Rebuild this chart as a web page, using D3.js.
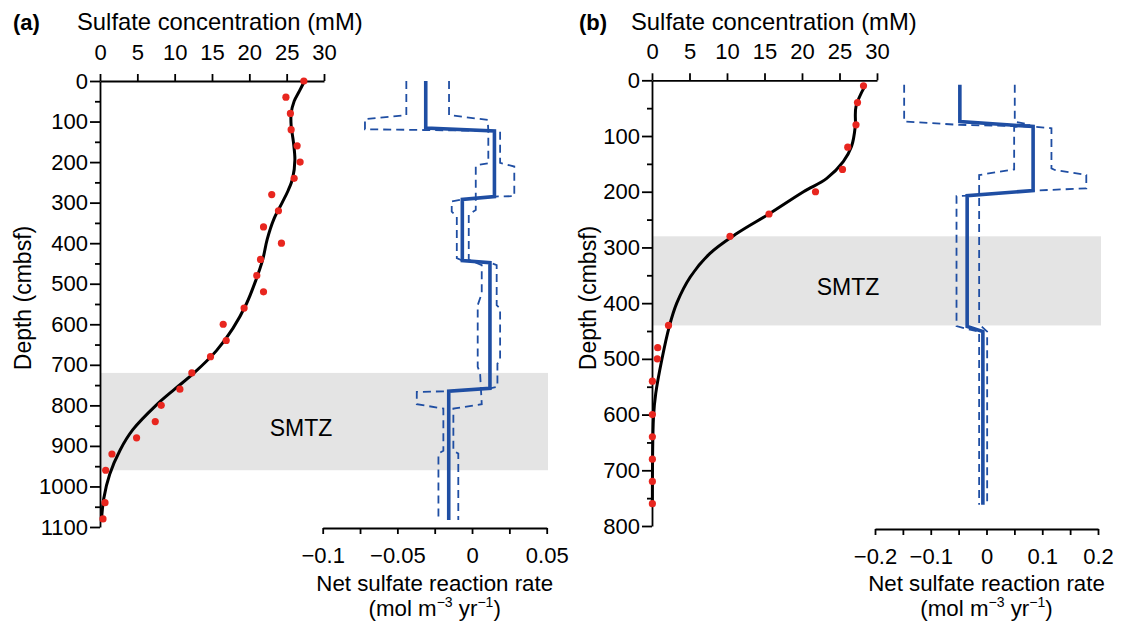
<!DOCTYPE html>
<html>
<head>
<meta charset="utf-8">
<script src="https://cdn.jsdelivr.net/npm/d3@7"></script>
<style>
  body { margin: 0; background: #fff; }
  text { font-family: "Liberation Sans", Arial, sans-serif; fill: #000; }
</style>
</head>
<body>
<svg id="chart" width="1126" height="628"></svg>
<script>
// ---- data ----
// panel (a): sulfate porewater data
var dotDepthA = [0, 40, 80, 120, 160, 200, 240, 280, 320, 360, 400, 440, 480, 520, 560, 600, 640, 680, 720, 760, 800, 840, 880, 920, 960, 1040, 1080];
var dotConcA  = [27.3, 24.9, 25.5, 25.6, 26.4, 26.8, 26.0, 23.0, 23.9, 21.9, 24.3, 21.5, 21.0, 21.9, 19.3, 16.5, 16.9, 14.8, 12.3, 10.7, 8.2, 7.4, 4.9, 1.6, 0.76, 0.67, 0.4];
// fitted profile
var fitDepthA = [0, 25, 50, 80, 110, 150, 195, 240, 270, 300, 340, 390, 440, 490, 550, 610, 665, 720, 760, 800, 860, 910, 970, 1030, 1083];
var fitConcA  = [27.4, 26.7, 26.0, 25.6, 25.6, 25.9, 26.1, 25.8, 25.2, 24.4, 23.3, 22.4, 21.8, 20.9, 19.6, 17.8, 15.6, 12.6, 10.0, 7.5, 4.4, 2.7, 1.3, 0.5, 0.2];
// net reaction rate (step profile) and its bounds
var rateDepthA = [0, 116, 123, 285, 292, 443, 448, 758, 765, 1083];
var rateA      = [-0.031, -0.031, 0.015, 0.015, -0.0065, -0.0065, 0.012, 0.012, -0.0156, -0.0156];
var bound1DepthA = [0, 84, 94, 119, 121, 123, 125, 202, 211, 284, 285, 292, 297, 322, 334, 437, 443, 448, 454, 553, 561, 689, 697, 754, 758, 765, 767, 797, 808, 912, 919, 1083];
var bound1A      = [-0.044, -0.044, -0.0717, -0.0717, -0.031, 0.015, 0.0188, 0.0188, 0.0283, 0.0283, 0.015, -0.0065, -0.0136, -0.0136, -0.0102, -0.0102, -0.0065, 0.012, 0.0165, 0.0165, 0.0188, 0.0188, 0.017, 0.017, 0.012, -0.0156, -0.037, -0.037, -0.0192, -0.0192, -0.0225, -0.0225];
var bound2DepthA = [0, 84, 96, 123, 203, 207, 210, 318, 330, 441, 454, 524, 553, 705, 721, 797, 808, 912, 919, 1083];
var bound2A      = [-0.0154, -0.0154, 0.0105, 0.0109, 0.0109, 0.0038, 0.0025, 0.0025, -0.0022, -0.0022, 0.0065, 0.0065, 0.0038, 0.0038, 0.0054, 0.0065, -0.0125, -0.0125, -0.0092, -0.0092];
var smtzA = [720, 960];

// panel (b)
var dotDepthB = [10, 40, 80, 120, 160, 200, 240, 280, 440, 480, 500, 540, 600, 640, 680, 720, 760];
var dotConcB  = [28.2, 27.4, 27.2, 26.1, 25.4, 21.8, 15.6, 10.4, 2.2, 0.76, 0.7, 0.05, 0.05, 0.05, 0.05, 0.05, 0.05];
var fitDepthB = [10, 47, 83, 119, 146, 176, 200, 239, 275, 311, 353, 400, 442, 502, 562, 604, 765];
var fitConcB  = [28.4, 27.2, 27.1, 26.6, 25.5, 23.3, 20.2, 15.7, 11.3, 7.7, 5.1, 3.3, 2.3, 1.3, 0.5, 0.2, 0.05];
var rateDepthB = [8, 74, 83, 198, 207, 442, 451, 762];
var rateB      = [-0.0478, -0.0478, 0.0836, 0.0836, -0.0347, -0.0347, -0.0065, -0.0065];
var bound1DepthB = [8, 74, 80, 83, 86, 158, 161, 170, 194, 198, 207, 208, 441, 446, 451, 762];
var bound1B      = [-0.1477, -0.1477, -0.0478, 0.0836, 0.1165, 0.1165, 0.1225, 0.179, 0.179, 0.0836, -0.0347, -0.0538, -0.0538, -0.037, -0.0132, -0.0132];
var bound2DepthB = [8, 74, 80, 84, 158, 160, 170, 438, 451, 762];
var bound2B      = [0.0507, 0.0507, 0.078, 0.0496, 0.0496, 0.0496, -0.0132, -0.0132, 0.0012, 0.0012];
var smtzB = [280, 440];

// axis ticks and labels
var concTicks = [0, 5, 10, 15, 20, 25, 30];
var depthMajorA = d3.range(0, 1101, 100);
var depthMinorA = d3.range(50, 1100, 100);
var depthMajorB = d3.range(0, 801, 100);
var depthMinorB = d3.range(50, 800, 100);
var rateTicksA  = [-0.1, -0.075, -0.05, -0.025, 0, 0.025, 0.05];
var rateLabelsA = [-0.1, -0.05, 0, 0.05];
var rateTicksB  = [-0.2, -0.15, -0.1, -0.05, 0, 0.05, 0.1, 0.15, 0.2];
var rateLabelsB = [-0.2, -0.1, 0, 0.1, 0.2];

var RED = "#e8261f";
var BLUE = "#1f4ea3";
var FS = 22;

var svg = d3.select("#chart");

function zip(a, b) { return a.map(function(d, i) { return [d, b[i]]; }); }

function panel(o) {
  var g = svg.append("g");
  var x = d3.scaleLinear().domain([0, 30]).range(o.concRange);
  var y = d3.scaleLinear().domain([0, o.maxDepth]).range(o.depthRange);
  var r = d3.scaleLinear().domain(o.rateDomain).range(o.rateRange);

  // SMTZ band
  g.append("rect")
    .attr("x", x(0)).attr("y", y(o.smtz[0]))
    .attr("width", o.bandRight - x(0))
    .attr("height", y(o.smtz[1]) - y(o.smtz[0]))
    .attr("fill", "#e4e4e4");
  g.append("text")
    .attr("x", o.smtzLabel[0]).attr("y", o.smtzLabel[1])
    .attr("text-anchor", "middle")
    .style("font-size", "23px")
    .text("SMTZ");

  // axes
  var top = g.append("g")
    .attr("transform", "translate(0," + y(0) + ")")
    .call(d3.axisTop(x).tickValues(concTicks).tickSize(7).tickSizeOuter(0).tickPadding(14));
  var left = g.append("g")
    .attr("transform", "translate(" + x(0) + ",0)")
    .call(d3.axisLeft(y).tickValues(o.depthMajor).tickSize(10).tickSizeOuter(0).tickPadding(2)
      .tickFormat(d3.format("d")));
  var leftMinor = g.append("g")
    .attr("transform", "translate(" + x(0) + ",0)")
    .call(d3.axisLeft(y).tickValues(o.depthMinor).tickSize(5).tickSizeOuter(0).tickFormat(""));
  var fmt = d3.format("~g");
  var bottom = g.append("g")
    .attr("transform", "translate(0," + o.bottomY + ")")
    .call(d3.axisBottom(r).tickValues(o.rateTicks).tickSize(6).tickSizeOuter(0).tickPadding(13)
      .tickFormat(function(d) {
        return o.rateLabels.some(function(v) { return Math.abs(v - d) < 1e-9; }) ? fmt(d) : "";
      }));
  [top, left, leftMinor, bottom].forEach(function(a) {
    a.selectAll("path, line").attr("stroke", "#000").attr("stroke-width", 1.8);
    a.selectAll("text").style("font-size", FS + "px").style("font-family", "'Liberation Sans', Arial, sans-serif");
  });
  leftMinor.select(".domain").remove();

  // fitted curve and data
  var curve = d3.line()
    .x(function(d) { return x(d[1]); })
    .y(function(d) { return y(d[0]); })
    .curve(d3.curveCatmullRom.alpha(0.5));
  g.append("path")
    .datum(zip(o.fitDepth, o.fitConc))
    .attr("d", curve)
    .attr("fill", "none").attr("stroke", "#000").attr("stroke-width", 3);
  g.selectAll(".dot")
    .data(zip(o.dotDepth, o.dotConc))
    .join("circle")
    .attr("cx", function(d) { return x(d[1]); })
    .attr("cy", function(d) { return y(d[0]); })
    .attr("r", 3.6)
    .attr("fill", RED);

  // rate profile
  var rl = d3.line()
    .x(function(d) { return r(d[1]); })
    .y(function(d) { return y(d[0]); });
  [[o.b1Depth, o.b1], [o.b2Depth, o.b2]].forEach(function(b) {
    g.append("path")
      .datum(zip(b[0], b[1]))
      .attr("d", rl)
      .attr("fill", "none").attr("stroke", BLUE).attr("stroke-width", 1.8)
      .attr("stroke-dasharray", "8,5");
  });
  g.append("path")
    .datum(zip(o.rateDepth, o.rate))
    .attr("d", rl)
    .attr("fill", "none").attr("stroke", BLUE).attr("stroke-width", 3.6)
    .attr("stroke-linejoin", "miter");

  // labels
  g.append("text")
    .attr("x", o.tagX).attr("y", 30)
    .style("font-size", "22px").style("font-weight", "bold")
    .text(o.tag);
  g.append("text")
    .attr("x", o.titleX).attr("y", 30)
    .style("font-size", "23.8px")
    .text("Sulfate concentration (mM)");
  g.append("text")
    .attr("transform", "translate(" + o.depthLabelX + ",298) rotate(-90)")
    .attr("text-anchor", "middle")
    .style("font-size", "23px")
    .text("Depth (cmbsf)");
  var cx = (o.rateRange[0] + o.rateRange[1]) / 2;
  g.append("text")
    .attr("x", cx).attr("y", 591)
    .attr("text-anchor", "middle")
    .style("font-size", "22.3px")
    .text("Net sulfate reaction rate");
  var u = g.append("text")
    .attr("x", cx).attr("y", 616)
    .attr("text-anchor", "middle")
    .style("font-size", "22.3px");
  u.append("tspan").text("(mol m");
  u.append("tspan").attr("dy", -9).style("font-size", "14px").text("\u22123");
  u.append("tspan").attr("dy", 9).text(" yr");
  u.append("tspan").attr("dy", -9).style("font-size", "14px").text("\u22121");
  u.append("tspan").attr("dy", 9).text(")");
}

panel({
  tag: "(a)", tagX: 13, titleX: 77, depthLabelX: 31,
  concRange: [100, 324], depthRange: [81, 527], maxDepth: 1100,
  rateDomain: [-0.1, 0.05], rateRange: [322.7, 546.7], bottomY: 528,
  rateTicks: rateTicksA, rateLabels: rateLabelsA,
  depthMajor: depthMajorA, depthMinor: depthMinorA,
  smtz: smtzA, bandRight: 548, smtzLabel: [301, 436],
  dotDepth: dotDepthA, dotConc: dotConcA, fitDepth: fitDepthA, fitConc: fitConcA,
  rateDepth: rateDepthA, rate: rateA,
  b1Depth: bound1DepthA, b1: bound1A, b2Depth: bound2DepthA, b2: bound2A
});

panel({
  tag: "(b)", tagX: 579, titleX: 631, depthLabelX: 596,
  concRange: [652, 877], depthRange: [80.3, 526], maxDepth: 800,
  rateDomain: [-0.2, 0.2], rateRange: [875, 1098], bottomY: 529,
  rateTicks: rateTicksB, rateLabels: rateLabelsB,
  depthMajor: depthMajorB, depthMinor: depthMinorB,
  smtz: smtzB, bandRight: 1101, smtzLabel: [848, 295],
  dotDepth: dotDepthB, dotConc: dotConcB, fitDepth: fitDepthB, fitConc: fitConcB,
  rateDepth: rateDepthB, rate: rateB,
  b1Depth: bound1DepthB, b1: bound1B, b2Depth: bound2DepthB, b2: bound2B
});
</script>
</body>
</html>
